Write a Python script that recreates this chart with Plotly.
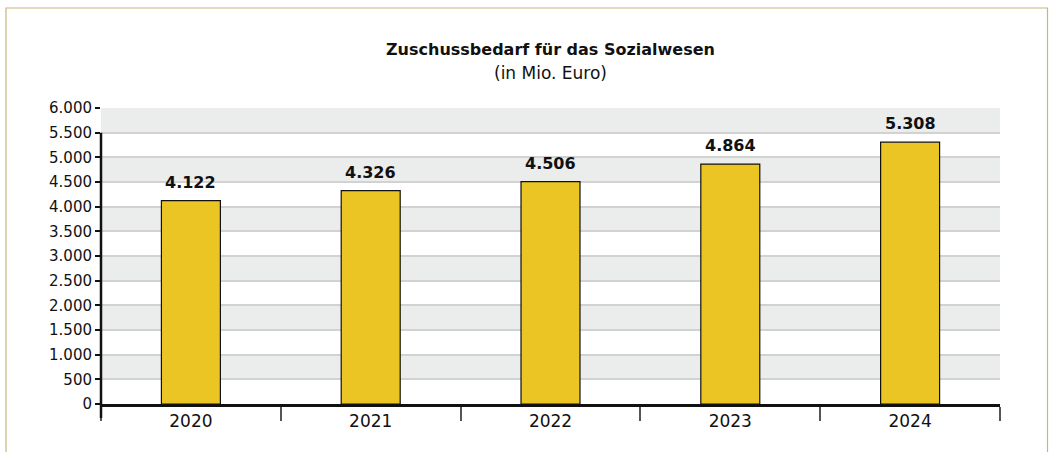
import plotly.graph_objects as go

years = ["2020", "2021", "2022", "2023", "2024"]
values = [4122, 4326, 4506, 4864, 5308]
y_ticks = list(range(0, 6001, 500))
title_text = "Zuschussbedarf für das Sozialwesen"
subtitle_text = "(in Mio. Euro)"

W, H = 1049, 452
L, R, T, B = 101, 49, 108, 48
pw, ph = W - L - R, H - T - B

def px_x(x):
    return (x - L) / pw

def px_y(y):
    return (H - B - y) / ph

FONT = "DejaVu Sans"

def de_fmt(v):
    return f"{v:,.0f}".replace(",", ".")

fig = go.Figure()
fig.add_trace(go.Bar(
    x=years, y=values,
    marker=dict(color="#EAC524", line=dict(color="#111111", width=1.2)),
    cliponaxis=False,
))

annotations = [
    dict(text="<b>" + title_text + "</b>", x=0.5, y=px_y(50), xref="paper", yref="paper",
         showarrow=False, font=dict(family=FONT, size=16, color="#111111"), yanchor="middle"),
    dict(text=subtitle_text, x=0.5, y=px_y(73), xref="paper", yref="paper",
         showarrow=False, font=dict(family=FONT, size=17, color="#111111"), yanchor="middle"),
]
for i, (yr, v) in enumerate(zip(years, values)):
    annotations.append(dict(text="<b>" + de_fmt(v) + "</b>", x=i, y=v, xref="x", yref="y",
                            showarrow=False, yanchor="bottom", yshift=7,
                            font=dict(family=FONT, size=16, color="#111111")))

shapes = []
# alternating grey bands
for lo in range(500, 6000, 1000):
    shapes.append(dict(type="rect", xref="paper", yref="y", x0=0, x1=1, y0=lo, y1=lo + 500,
                       fillcolor="#EBECEC", line=dict(width=0), layer="below"))
# y axis line (starts at 5500)
shapes.append(dict(type="line", xref="paper", yref="paper", x0=0, x1=0,
                   y0=5500 / 6000, y1=px_y(H - B + 14), line=dict(color="#111111", width=2.5)))
# frame
shapes.append(dict(type="rect", xref="paper", yref="paper",
                   x0=px_x(6), x1=px_x(1047.5), y0=px_y(8), y1=px_y(460),
                   line=dict(color="#C8B67E", width=1.2), fillcolor="rgba(0,0,0,0)"))

fig.update_layout(
    width=W, height=H,
    margin=dict(l=L, r=R, t=T, b=B),
    paper_bgcolor="white", plot_bgcolor="white",
    separators=",.",
    showlegend=False,
    bargap=0.672,
    shapes=shapes,
    annotations=annotations,
    font=dict(family=FONT, color="#111111"),
)
fig.update_yaxes(
    range=[0, 6000], tickvals=y_ticks, tickformat=",.0f",
    showgrid=True, gridcolor="#D2D2D2", gridwidth=1.5,
    zeroline=False, showline=False,
    ticks="outside", ticklen=5, tickwidth=1.5, tickcolor="#111111",
    tickfont=dict(family=FONT, size=15, color="#111111"),
)
fig.update_xaxes(
    type="category",
    showline=True, linecolor="#111111", linewidth=2.5,
    tickson="boundaries", ticks="outside", ticklen=14, tickwidth=2, tickcolor="#555555",
    tickfont=dict(family=FONT, size=17, color="#111111"),
    tickangle=0,
    showgrid=False,
)

fig.write_html("out.html", config={"displayModeBar": False},
               post_script="document.body.style.margin='0';")
